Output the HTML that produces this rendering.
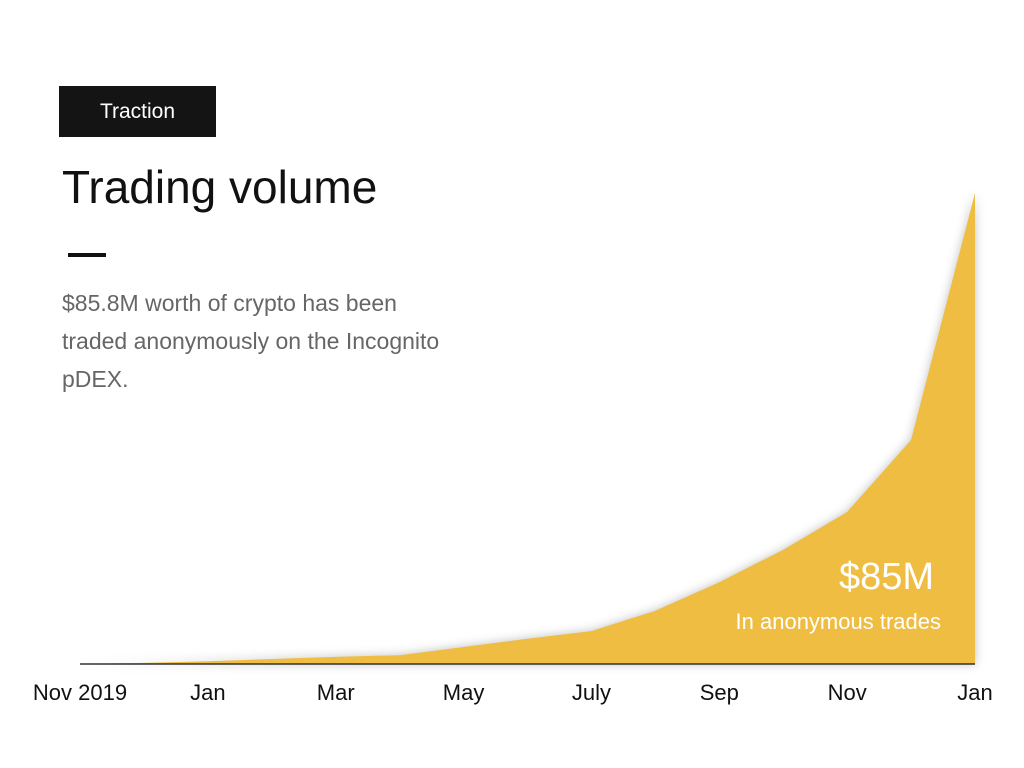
<!DOCTYPE html>
<html><head><meta charset="utf-8"><style>
body{margin:0;width:1024px;height:768px;background:#fff;font-family:"Liberation Sans",sans-serif;overflow:hidden;position:relative}
.tag{position:absolute;left:59px;top:86px;width:157px;height:51px;background:#141414;color:#fff;font-size:21px;line-height:51px;text-align:center}
h1{position:absolute;left:62px;top:160px;margin:0;font-weight:400;font-size:46px;color:#111}
.dash{position:absolute;left:68px;top:253px;width:38px;height:4px;background:#111}
.desc{position:absolute;left:62px;top:284px;font-size:23px;line-height:38px;color:#666;width:400px}
svg{position:absolute;left:0;top:0}
</style></head><body>
<div class="tag">Traction</div>
<h1>Trading volume</h1>
<div class="dash"></div>
<div class="desc">$85.8M worth of crypto has been traded anonymously on the Incognito pDEX.</div>
<svg width="1024" height="768">
<defs><filter id="sh" x="-5%" y="-5%" width="110%" height="110%"><feGaussianBlur stdDeviation="5"/></filter></defs>
<g id="plot"></g>
</svg>
<script>
const months=["Nov 2019","Dec","Jan","Feb","Mar","Apr","May","Jun","Jul","Aug","Sep","Oct","Nov","Dec","Jan"];
const volume=[0,0.2,0.5,0.9,1.3,1.6,3.1,4.6,6.0,9.7,14.9,20.8,27.7,40.8,85.8];
const tickLabels=["Nov 2019","Jan","Mar","May","July","Sep","Nov","Jan"];
const tickIdx=[0,2,4,6,8,10,12,14];
const x0=80,x1=975,yBase=664,yTop=193,vMax=85.8;
const xs=i=>x0+(x1-x0)*i/(months.length-1);
const ys=v=>yBase-(yBase-yTop)*v/vMax;
const ns="http://www.w3.org/2000/svg";
const g=document.getElementById('plot');
let d="M"+xs(0)+","+yBase;
volume.forEach((v,i)=>{d+=" L"+xs(i)+","+ys(v);});
d+=" L"+xs(volume.length-1)+","+yBase+" Z";
const sh=document.createElementNS(ns,'path');
sh.setAttribute('d',d);sh.setAttribute('fill','rgba(0,0,0,0.25)');sh.setAttribute('filter','url(#sh)');


g.appendChild(sh);
const area=document.createElementNS(ns,'path');
area.setAttribute('d',d);area.setAttribute('fill','#eebd41');


g.appendChild(area);
const ax=document.createElementNS(ns,'line');
ax.setAttribute('x1',x0);ax.setAttribute('x2',x1);ax.setAttribute('y1',yBase);ax.setAttribute('y2',yBase);
ax.setAttribute('stroke','#333');ax.setAttribute('stroke-width','1.5');


g.appendChild(ax);
tickLabels.forEach((t,k)=>{
  const tx=document.createElementNS(ns,'text');
  tx.setAttribute('x',xs(tickIdx[k]));tx.setAttribute('y',700);
  tx.setAttribute('text-anchor','middle');tx.setAttribute('font-size','22');tx.setAttribute('fill','#111');
  tx.setAttribute('font-family','Liberation Sans, sans-serif');
  tx.textContent=t;
  
  
  g.appendChild(tx);
});
const big=document.createElementNS(ns,'text');
big.setAttribute('x',934);big.setAttribute('y',589);big.setAttribute('text-anchor','end');
big.setAttribute('font-size','38');big.setAttribute('fill','#fff');big.setAttribute('font-family','Liberation Sans, sans-serif');
big.textContent="$85M";


g.appendChild(big);
const sub=document.createElementNS(ns,'text');
sub.setAttribute('x',941);sub.setAttribute('y',629);sub.setAttribute('text-anchor','end');
sub.setAttribute('font-size','22');sub.setAttribute('fill','#fff');sub.setAttribute('font-family','Liberation Sans, sans-serif');
sub.textContent="In anonymous trades";


g.appendChild(sub);
</script>
</body></html>
